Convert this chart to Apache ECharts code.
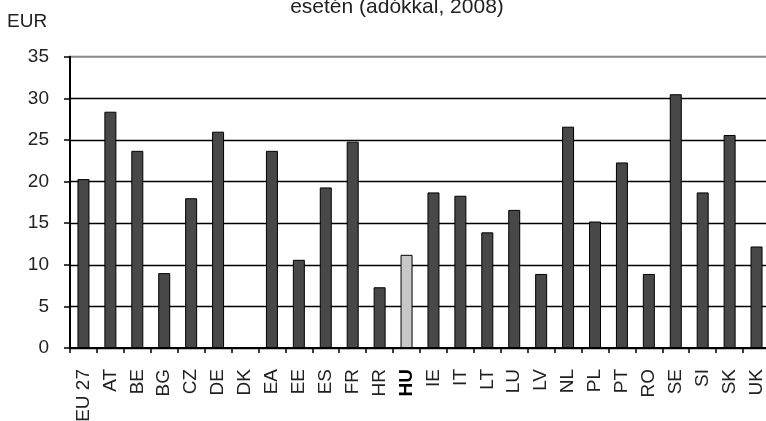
<!DOCTYPE html>
<html>
<head>
<meta charset="utf-8">
<script src="https://cdn.jsdelivr.net/npm/echarts@6/dist/echarts.min.js"></script>
<style>
html,body{margin:0;padding:0;background:#fff;}
#chart{width:766px;height:421px;}
</style>
</head>
<body>
<div id="chart"></div>
<script>
const categories = ['EU 27','AT','BE','BG','CZ','DE','DK','EA','EE','ES','FR','HR','HU','IE','IT','LT','LU','LV','NL','PL','PT','RO','SE','SI','SK','UK'];
const values = [20.3, 28.4, 23.7, 9.0, 18.0, 26.0, null, 23.7, 10.6, 19.3, 24.8, 7.3, 11.2, 18.7, 18.3, 13.9, 16.6, 8.9, 26.6, 15.2, 22.3, 8.9, 30.5, 18.7, 25.6, 12.2];
const highlight = 'HU';
const yTicks = [0, 5, 10, 15, 20, 25, 30, 35];
const titleText = 'esetén (adókkal, 2008)';
const unitText = 'EUR';

const FONT = 'Liberation Sans';
const PLOT_W = 700;
const chart = echarts.init(document.getElementById('chart'), null, {renderer: 'canvas'});

const data = values.map((v, i) => ({
  value: v,
  itemStyle: categories[i] === highlight ? {color: '#c8c8c8'} : undefined
}));
const yMin = yTicks[0];
const yMax = yTicks[yTicks.length - 1];
const yStep = yTicks[1] - yTicks[0];

const unitLabel = {
  id: 'unit',
  type: 'text',
  left: 7,
  top: 12,
  style: {text: unitText, font: '19px "Liberation Sans"', fill: '#222'}
};

chart.setOption({
  animation: false,
  backgroundColor: '#fff',
  title: {
    text: titleText,
    left: 392,
    textAlign: 'center',
    top: -8,
    textStyle: {fontFamily: FONT, fontSize: 21, fontWeight: 'normal', color: '#222'}
  },
  graphic: [unitLabel],
  grid: {
    left: 70, top: 56.8, height: 291.2, width: PLOT_W,
    outerBoundsMode: 'none',
    show: true, borderColor: '#888', borderWidth: 2
  },
  xAxis: {
    type: 'category',
    data: categories,
    axisLine: {lineStyle: {color: '#000', width: 2}},
    axisTick: {show: true, length: 5, lineStyle: {color: '#000', width: 1.5}},
    axisLabel: {
      interval: 0,
      rotate: 90,
      margin: 21,
      fontFamily: FONT,
      fontSize: 19,
      color: '#222',
      formatter: v => v === highlight ? '{b|' + v + '}' : v,
      rich: {b: {fontFamily: FONT, fontSize: 19, fontWeight: 'bold', color: '#000'}}
    },
    splitLine: {show: false}
  },
  yAxis: {
    type: 'value',
    min: yMin, max: yMax, interval: yStep,
    axisLine: {show: true, lineStyle: {color: '#000', width: 2}},
    axisTick: {show: true, length: 6, lineStyle: {color: '#000', width: 1.5}},
    axisLabel: {margin: 21, fontFamily: FONT, fontSize: 19, color: '#222'},
    splitLine: {show: true, showMaxLine: false, lineStyle: {color: '#000', width: 1.4}}
  },
  series: [{
    type: 'bar',
    data: data,
    barWidth: 12,
    itemStyle: {color: '#484848', borderColor: '#000', borderWidth: 1}
  }]
});

// refresh the display list and re-render once so every element is painted
chart.getZr().storage.getDisplayList(true);
chart.setOption({graphic: [unitLabel]});
</script>
</body>
</html>
